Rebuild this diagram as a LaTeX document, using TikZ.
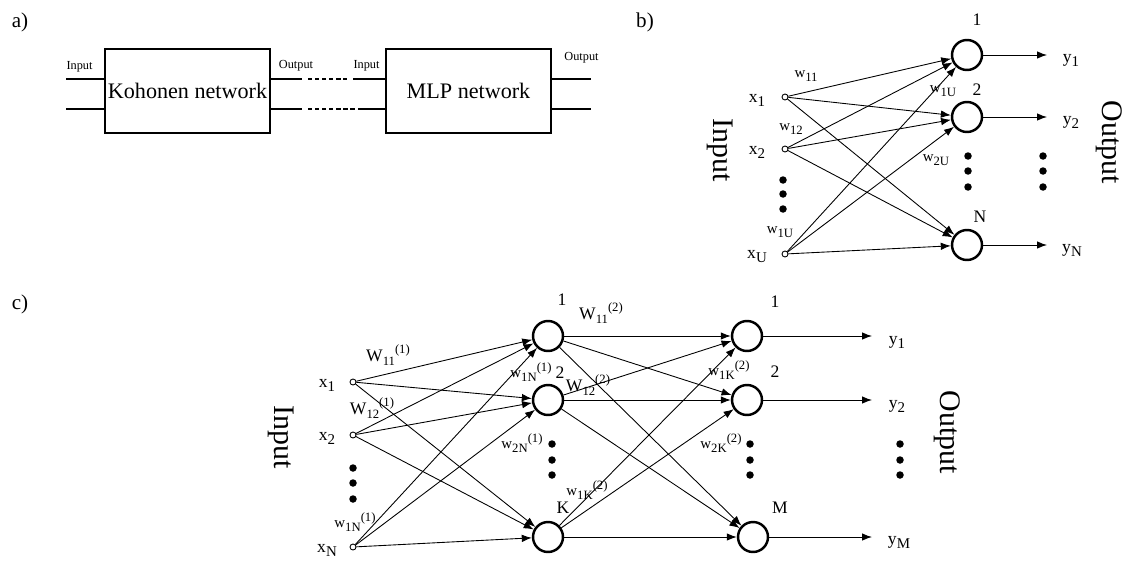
\documentclass[tikz,border=0pt]{standalone}
\usepackage{fontspec}
\usepackage{graphicx}
\setmainfont{Liberation Serif}
\usetikzlibrary{arrows.meta}
\newcommand{\lowr}[1]{\raisebox{-0.5ex}{\scalebox{0.85}{#1}}}
\newcommand{\upr}[1]{\raisebox{0.9ex}{\scalebox{0.85}{#1}}}
\tikzset{
	box/.style={draw, line width=0.6pt, minimum width=3.3cm, minimum height=1.68cm, inner sep=0pt, font=\fontsize{12.6}{15}\selectfont},
	neuron/.style={draw, circle, line width=1.4pt, minimum size=0.6cm, inner sep=0pt},
	inp/.style={draw, circle, line width=0.5pt, minimum size=0.12cm, inner sep=0pt},
	bigdot/.style={fill, circle, minimum size=0.15cm, inner sep=0pt},
	lbl/.style={inner sep=0pt, font=\fontsize{10}{12}\selectfont},
	wlbl/.style={inner sep=0pt, font=\fontsize{8.5}{10}\selectfont},
	tinylbl/.style={inner sep=0pt, font=\fontsize{7}{8}\selectfont},
	side/.style={inner sep=0pt, rotate=-90, font=\fontsize{17}{20}\selectfont},
	part/.style={inner sep=0pt, font=\fontsize{12}{14}\selectfont},
	dashline/.style={dash pattern=on 2.5pt off 1.5pt},
}
\begin{document}
\begin{tikzpicture}[x=0.02cm, y=-0.02cm, line width=0.5pt, >={Latex[length=2mm,width=1.5mm]}]
	\useasboundingbox (0,0) rectangle (1125,561);
	% a)
	\node[part] (la) at (20,22) {a)};
	\node[box] (koh) at (187.5,91) {Kohonen network};
	\node[box] (mlp) at (468.5,91) {MLP network};
	\coordinate (kin1) at (66,79);
	\coordinate (kin2) at (66,109);
	\coordinate (kout1) at (302,79);
	\coordinate (kout2) at (302,109);
	\coordinate (da1) at (308,79);
	\coordinate (db1) at (347,79);
	\coordinate (da2) at (308,109);
	\coordinate (db2) at (355,109);
	\coordinate (min1) at (353,79);
	\coordinate (min2) at (358,109);
	\coordinate (mout1) at (591,79);
	\coordinate (mout2) at (591,109);
	\draw[line width=0.6pt] (kin1) -- (kin1 -| koh.west);
	\draw[line width=0.6pt] (kin2) -- (kin2 -| koh.west);
	\draw[line width=0.6pt] (kout1 -| koh.east) -- (kout1);
	\draw[line width=0.6pt] (kout2 -| koh.east) -- (kout2);
	\draw[line width=0.6pt, dashline] (da1) -- (db1);
	\draw[line width=0.6pt, dashline] (da2) -- (db2);
	\draw[line width=0.6pt] (min1) -- (min1 -| mlp.west);
	\draw[line width=0.6pt] (min2) -- (min2 -| mlp.west);
	\draw[line width=0.6pt] (mout1 -| mlp.east) -- (mout1);
	\draw[line width=0.6pt] (mout2 -| mlp.east) -- (mout2);
	\node[tinylbl] (tin1) at (79.5,67) {Input};
	\node[tinylbl] (tout1) at (296,66) {Output};
	\node[tinylbl] (tin2) at (366.5,66) {Input};
	\node[tinylbl] (tout2) at (581.5,58) {Output};
	% b)
	\node[part] (lb) at (645,22) {b)};
	\node[inp] (bx1) at (785,97) {};
	\node[inp] (bx2) at (785,149) {};
	\node[inp] (bxu) at (785,254) {};
	\node[lbl] at (757,100) {x\lowr{1}};
	\node[lbl] at (757,152) {x\lowr{2}};
	\node[lbl] at (757,257) {x\lowr{U}};
	\node[bigdot] at (783,180) {};
	\node[bigdot] at (783,194) {};
	\node[bigdot] at (783,209) {};
	\node[neuron] (bn1) at (967,55) {};
	\node[neuron] (bn2) at (967,117) {};
	\node[neuron] (bnn) at (967,245) {};
	\node[lbl] at (977,20) {1};
	\node[lbl] at (977,90) {2};
	\node[lbl] at (980,217) {N};
	\node[bigdot] at (968,156) {};
	\node[bigdot] at (968,171) {};
	\node[bigdot] at (968,187) {};
	\node[bigdot] at (1043,156) {};
	\node[bigdot] at (1043,171) {};
	\node[bigdot] at (1043,187) {};
	\draw[->] (bx1) -- (bn1);
	\draw[->] (bx1) -- (bn2);
	\draw[->] (bx1) -- (bnn);
	\draw[->] (bx2) -- (bn1);
	\draw[->] (bx2) -- (bn2);
	\draw[->] (bx2) -- (bnn);
	\draw[->] (bxu) -- (bn1);
	\draw[->] (bxu) -- (bn2);
	\draw[->] (bxu) -- (bnn);
	\coordinate (by1) at (1047,55);
	\coordinate (by2) at (1047,117);
	\coordinate (byn) at (1047,245);
	\draw[->] (bn1) -- (by1);
	\draw[->] (bn2) -- (by2);
	\draw[->] (bnn) -- (byn);
	\node[lbl] at (1071,60) {y\lowr{1}};
	\node[lbl] at (1071,122) {y\lowr{2}};
	\node[lbl] at (1072,250) {y\lowr{N}};
	\node[wlbl] at (806,76) {w\lowr{11}};
	\node[wlbl] at (791,129) {w\lowr{12}};
	\node[wlbl] at (780,232) {w\lowr{1U}};
	\node[wlbl] at (943,91) {w\lowr{1U}};
	\node[wlbl] at (936,160) {w\lowr{2U}};
	\node[side] (bin) at (720,150) {Input};
	\node[side] (bout) at (1109,142) {Output};
	% c)
	\node[part] (lc) at (20,304) {c)};
	\node[inp] (cx1) at (353,382) {};
	\node[inp] (cx2) at (353,435) {};
	\node[inp] (cxn) at (353,547) {};
	\node[lbl] at (327,385) {x\lowr{1}};
	\node[lbl] at (327,438) {x\lowr{2}};
	\node[lbl] at (327,550) {x\lowr{N}};
	\node[bigdot] at (353,468) {};
	\node[bigdot] at (353,483) {};
	\node[bigdot] at (353,499) {};
	\node[neuron] (ch1) at (548,336) {};
	\node[neuron] (ch2) at (548,400) {};
	\node[neuron] (chk) at (548,537) {};
	\node[lbl] at (562,300) {1};
	\node[lbl] at (560,373) {2};
	\node[lbl] at (563,508) {K};
	\node[bigdot] at (552,444) {};
	\node[bigdot] at (552,460) {};
	\node[bigdot] at (552,475) {};
	\node[neuron] (co1) at (747,336) {};
	\node[neuron] (co2) at (747,400) {};
	\node[neuron] (com) at (753,537) {};
	\node[lbl] at (775,302) {1};
	\node[lbl] at (775,372) {2};
	\node[lbl] at (780,508) {M};
	\node[bigdot] at (750,444) {};
	\node[bigdot] at (750,460) {};
	\node[bigdot] at (750,475) {};
	\node[bigdot] at (900,444) {};
	\node[bigdot] at (900,460) {};
	\node[bigdot] at (900,475) {};
	\draw[->] (cx1) -- (ch1);
	\draw[->] (cx1) -- (ch2);
	\draw[->] (cx1) -- (chk);
	\draw[->] (cx2) -- (ch1);
	\draw[->] (cx2) -- (ch2);
	\draw[->] (cx2) -- (chk);
	\draw[->] (cxn) -- (ch1);
	\draw[->] (cxn) -- (ch2);
	\draw[->] (cxn) -- (chk);
	\draw[->] (ch1) -- (co1);
	\draw[->] (ch1) -- (co2);
	\draw[->] (ch1) -- (com);
	\draw[->] (ch2) -- (co1);
	\draw[->] (ch2) -- (co2);
	\draw[->] (ch2) -- (com);
	\draw[->] (chk) -- (co1);
	\draw[->] (chk) -- (co2);
	\draw[->] (chk) -- (com);
	\coordinate (cy1) at (872,336);
	\coordinate (cy2) at (872,400);
	\coordinate (cym) at (872,537);
	\draw[->] (co1) -- (cy1);
	\draw[->] (co2) -- (cy2);
	\draw[->] (com) -- (cym);
	\node[lbl] at (897,342) {y\lowr{1}};
	\node[lbl] at (897,406) {y\lowr{2}};
	\node[lbl] at (899,542) {y\lowr{M}};
	\node[wlbl] at (388,355) {\fontsize{10}{12}\selectfont W\lowr{\fontsize{8.5}{10}\selectfont 11}\upr{\fontsize{8.5}{10}\selectfont (1)}};
	\node[wlbl] at (372,408) {\fontsize{10}{12}\selectfont W\lowr{\fontsize{8.5}{10}\selectfont 12}\upr{\fontsize{8.5}{10}\selectfont (1)}};
	\node[wlbl] at (531,372) {w\lowr{1N}\upr{(1)}};
	\node[wlbl] at (522,443) {w\lowr{2N}\upr{(1)}};
	\node[wlbl] at (355,522) {w\lowr{1N}\upr{(1)}};
	\node[wlbl] at (601,313) {\fontsize{10}{12}\selectfont W\lowr{\fontsize{8.5}{10}\selectfont 11}\upr{\fontsize{8.5}{10}\selectfont (2)}};
	\node[wlbl] at (588,385) {\fontsize{10}{12}\selectfont W\lowr{\fontsize{8.5}{10}\selectfont 12}\upr{\fontsize{8.5}{10}\selectfont (2)}};
	\node[wlbl] at (729,370) {w\lowr{1K}\upr{(2)}};
	\node[wlbl] at (721,443) {w\lowr{2K}\upr{(2)}};
	\node[wlbl] at (587,490) {w\lowr{1K}\upr{(2)}};
	\node[side] (cin) at (281,437) {Input};
	\node[side] (cout) at (947,432) {Output};
\end{tikzpicture}
\end{document}
